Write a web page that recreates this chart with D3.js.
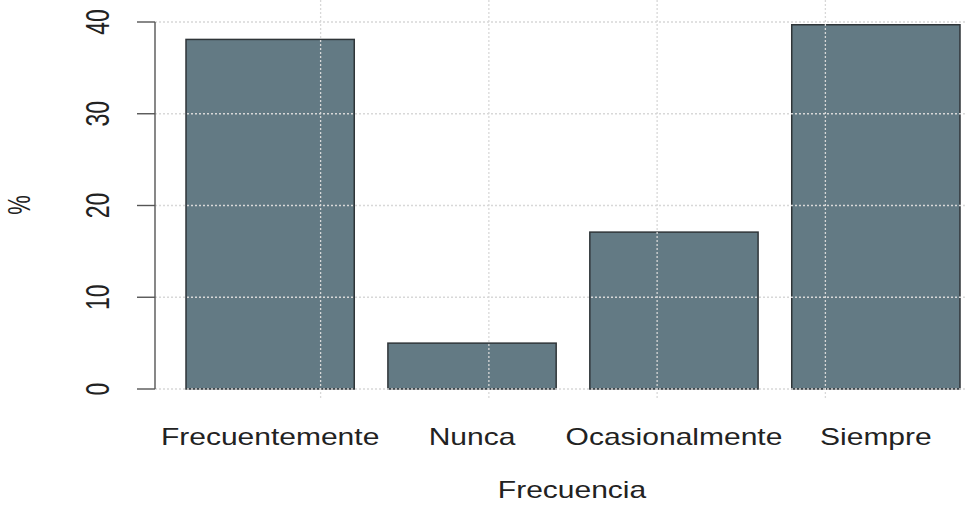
<!DOCTYPE html>
<html><head><meta charset="utf-8">
<script src="https://cdn.jsdelivr.net/npm/d3@7"></script>
<style>body{margin:0;background:#fff}svg{display:block}text{font-family:"Liberation Sans",Arial,sans-serif;fill:#222}</style>
</head><body>
<svg id="c" width="967" height="505"></svg>
<script>
const categories = ["Frecuentemente","Nunca","Ocasionalmente","Siempre"];
const values = [38.1, 5.0, 17.1, 39.7];
const yTicks = [0,10,20,30,40];
const xGrid = [1,2,3,4];
const xTitle = "Frecuencia";
const yTitle = "%";

const svg = d3.select("#c");
const x = d3.scaleLinear().domain([0.2,4.8]).range([186,960]);
const y = d3.scaleLinear().domain([0,40]).range([389,22]);
const barW = 1, space = 0.2;
const left = 155, right = 967;
const sx = 1.25, sxr = 1.45;

// bars
svg.selectAll("rect.bar").data(values).enter().append("rect")
  .attr("x",(d,i)=>x(space + i*(barW+space)))
  .attr("width",(d,i)=>x(space + i*(barW+space)+barW)-x(space + i*(barW+space)))
  .attr("y",d=>y(d)).attr("height",d=>y(0)-y(d))
  .attr("fill","#637a84").attr("stroke","#2f3538").attr("stroke-width",1.5);

// grid on top
svg.selectAll("line.gh").data(yTicks).enter().append("line")
  .attr("x1",left).attr("x2",right).attr("y1",d=>y(d)).attr("y2",d=>y(d))
  .attr("stroke","#d8d8d8").attr("stroke-width",1.3).attr("stroke-dasharray","2 2");
svg.selectAll("line.gv").data(xGrid).enter().append("line")
  .attr("x1",d=>x(d)).attr("x2",d=>x(d)).attr("y1",0).attr("y2",400)
  .attr("stroke","#d8d8d8").attr("stroke-width",1.3).attr("stroke-dasharray","2 2");

// y axis
const ax = svg.append("g");
ax.append("line").attr("x1",left).attr("x2",left).attr("y1",y(40)).attr("y2",y(0)).attr("stroke","#555").attr("stroke-width",1.4);
ax.selectAll("line.t").data(yTicks).enter().append("line")
  .attr("x1",137).attr("x2",left).attr("y1",d=>y(d)).attr("y2",d=>y(d)).attr("stroke","#555").attr("stroke-width",1.4);
ax.selectAll("text").data(yTicks).enter().append("text")
  .attr("transform",d=>`translate(109,${y(d)}) scale(${sxr},1) rotate(-90)`)
  .attr("text-anchor","middle").attr("font-size",23).text(d=>d);

// x labels
svg.selectAll("text.xl").data(categories).enter().append("text")
  .attr("transform",(d,i)=>`translate(${x(space + i*(barW+space)+barW/2)},445) scale(${sx},1)`)
  .attr("text-anchor","middle").attr("font-size",24).text(d=>d);

svg.append("text").attr("transform",`translate(572,498) scale(${sx},1)`)
  .attr("text-anchor","middle").attr("font-size",24).text(xTitle);
svg.append("text").attr("transform",`translate(30,205) scale(${sxr},1) rotate(-90)`)
  .attr("text-anchor","middle").attr("font-size",22).text(yTitle);
</script>
</body></html>
